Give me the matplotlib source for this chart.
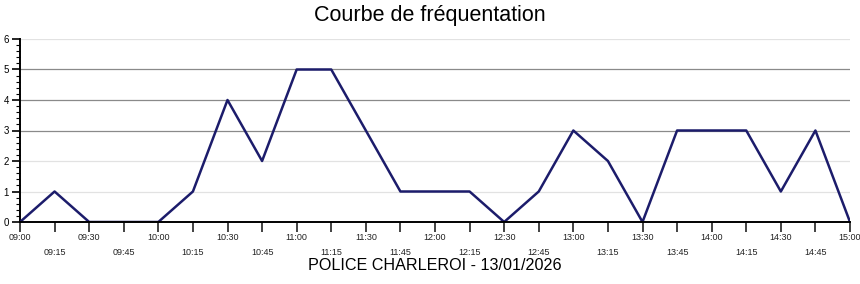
import matplotlib.pyplot as plt
from matplotlib.ticker import MultipleLocator

plt.rcParams['font.family'] = ['Liberation Sans', 'DejaVu Sans']

# --- data --- #
times = ['09:00', '09:15', '09:30', '09:45', '10:00', '10:15', '10:30', '10:45',
         '11:00', '11:15', '11:30', '11:45', '12:00', '12:15', '12:30', '12:45',
         '13:00', '13:15', '13:30', '13:45', '14:00', '14:15', '14:30', '14:45', '15:00']
visits = [0, 1, 0, 0, 0, 1, 4, 2, 5, 5, 3, 1, 1, 1, 0, 1, 3, 2, 0, 3, 3, 3, 1, 3, 0]

fig = plt.figure(figsize=(8.6, 2.84), dpi=100)
ax = fig.add_axes([20/860, 62/284, 830/860, 183/284])

x = list(range(len(times)))
ax.plot(x, visits, color='#1c1c6b', linewidth=1.8, zorder=3)

ax.set_xlim(0, len(times) - 1)
ax.set_ylim(0, 6)

# gridlines: 3-5 darker, others light
for v in range(1, 7):
    c = '#8a8a8a' if v in (3, 4, 5) else '#e2e2e2'
    ax.axhline(v, color=c, linewidth=0.9, zorder=1)

ax.yaxis.set_major_locator(MultipleLocator(1))
ax.yaxis.set_minor_locator(MultipleLocator(0.2))
ax.tick_params(axis='y', which='major', length=6, width=1.2, labelsize=7, pad=2)
ax.tick_params(axis='y', which='minor', length=3, width=0.8)

ax.set_xticks(x)
ax.set_xticklabels(['' for _ in times])
ax.tick_params(axis='x', length=7, width=1.2, color='#222222')
# alternate labels on two rows
for i, t in enumerate(times):
    off = -11 if i % 2 == 0 else -26
    ax.annotate(t, xy=(i, 0), xytext=(0, off), textcoords='offset pixels',
                ha='center', va='top', fontsize=6.5, color='#222222',
                annotation_clip=False)

for s in ['top', 'right']:
    ax.spines[s].set_visible(False)
ax.spines['bottom'].set_linewidth(1.4)
ax.spines['left'].set_linewidth(1.4)
ax.spines['bottom'].set_zorder(4)

fig.text(0.5, 1 - 16/284, 'Courbe de fréquentation', ha='center', va='center', fontsize=15.5)
fig.text(435/860, 1 - 266/284, 'POLICE CHARLEROI - 13/01/2026', ha='center', va='center', fontsize=11.6)

fig.savefig('out.png', dpi=100)
